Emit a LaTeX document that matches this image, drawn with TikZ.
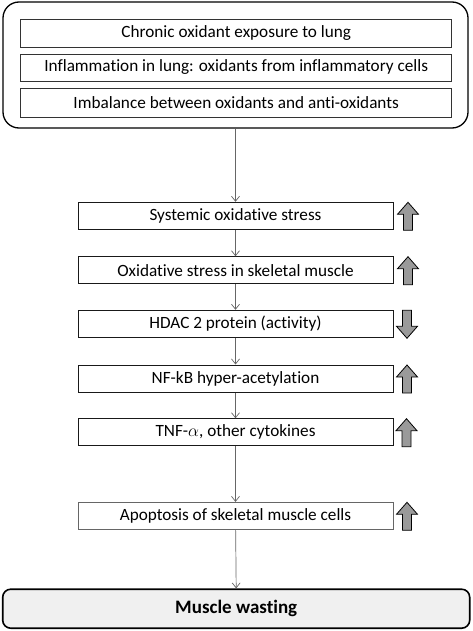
\documentclass[tikz,border=0pt]{standalone}
\usepackage{fontspec}
\setmainfont{Carlito}[Ligatures=NoCommon]
\usetikzlibrary{arrows.meta}
\definecolor{arrgray}{HTML}{9A9A9A}
\definecolor{lightfill}{HTML}{F0F0F0}
\tikzset{
  x=1pt, y=-1pt,
  topbox/.style={draw=black!80, line width=0.8pt, minimum width=431pt, inner sep=0pt, font=\fontsize{17.2}{19}\selectfont},
  midbox/.style={draw=black!90, line width=1.0pt, minimum width=315pt, minimum height=27pt, inner sep=0pt, font=\fontsize{17.2}{19}\selectfont},
  lightbox/.style={midbox, draw=black!60, line width=0.8pt},
  conn/.style={draw=black!60, line width=0.7pt, -{Straight Barb[length=5pt,width=8pt]}},
  blockarrow/.style={draw=black, line width=0.8pt, fill=arrgray},
}
\newcommand{\uparr}[2]{%
  \path[blockarrow] (#1-4.5,#2+28) -- (#1-4.5,#2+12) -- (#1-10.5,#2+12) -- (#1,#2) -- (#1+10.5,#2+12) -- (#1+4.5,#2+12) -- (#1+4.5,#2+28) -- cycle;}
\newcommand{\downarr}[2]{%
  \path[blockarrow] (#1-4.5,#2) -- (#1-4.5,#2+16) -- (#1-10.5,#2+16) -- (#1,#2+28) -- (#1+10.5,#2+16) -- (#1+4.5,#2+16) -- (#1+4.5,#2) -- cycle;}
\begin{document}
\begin{tikzpicture}
\useasboundingbox (0,0) rectangle (472,631);
\node[draw=black, line width=1.3pt, rounded corners=16pt, minimum width=465pt, minimum height=126pt] (outer) at (235.5,65) {};
\node[topbox, minimum height=28.7pt] (t1) at (236.2,33.3) {Chronic oxidant exposure to lung};
\node[topbox, minimum height=27pt] (t2) at (236.2,67.5) {Inflammation in lung: oxidants from inflammatory cells};
\node[topbox, minimum height=29pt] (t3) at (236.2,102.5) {Imbalance between oxidants and anti-oxidants};

\node[midbox] (b1) at (235.5,215.8) {Systemic oxidative stress};
\node[midbox] (b2) at (235.5,270.3) {Oxidative stress in skeletal muscle};
\node[midbox] (b3) at (235.5,323.8) {HDAC 2 protein (activity)};
\node[midbox] (b4) at (235.5,378.5) {NF-kB hyper-acetylation};
\node[midbox] (b5) at (235.5,432.3) {TNF-$\alpha$, other cytokines};
\node[lightbox] (b6) at (235.5,515.8) {Apoptosis of skeletal muscle cells};

\node[draw=black, line width=1.6pt, fill=lightfill, rounded corners=8pt, minimum width=467pt, minimum height=39pt, font=\fontsize{19}{22}\selectfont\bfseries] (mw) at (236.2,608.7) {Muscle wasting};

\draw[conn] (outer.south) -- (b1.north);
\draw[conn] (b1) -- (b2);
\draw[conn] (b2) -- (b3);
\draw[conn] (b3) -- (b4);
\draw[conn] (b4) -- (b5);
\draw[conn] (b5) -- (b6);
\draw[conn] (b6) -- (mw.north);

\uparr{408}{202.3}
\uparr{408}{256.7}
\downarr{407}{310.3}
\uparr{407}{365}
\uparr{406.5}{418.7}
\uparr{407}{502.3}
\end{tikzpicture}
\end{document}
